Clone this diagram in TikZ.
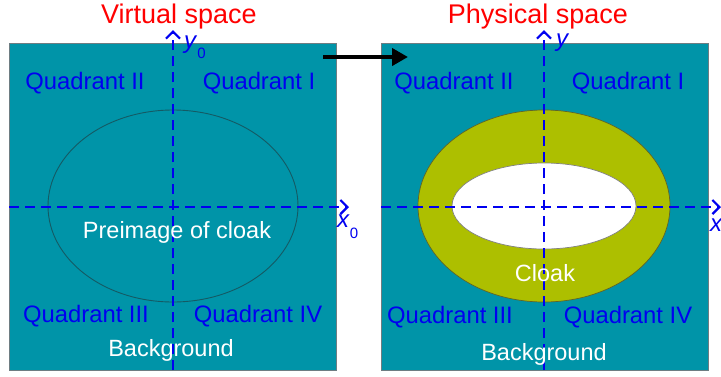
\documentclass[tikz,border=0pt]{standalone}
\usepackage{fontspec}
\setmainfont{Liberation Sans}
\usetikzlibrary{arrows.meta}
\definecolor{teal0}{RGB}{0,148,168}
\definecolor{olive0}{RGB}{173,191,0}
\definecolor{blue0}{RGB}{0,0,240}
\definecolor{red0}{RGB}{255,0,0}
\definecolor{edge0}{RGB}{110,125,130}
\tikzset{
  panel/.style={fill=teal0,draw=edge0,line width=0.8pt},
  axis/.style={blue0,line width=2.2pt,dash pattern=on 10pt off 6pt,-{Straight Barb[length=7pt,width=14pt,line width=2.2pt]}},
  quad/.style={text=blue0,font=\fontsize{23.8}{28}\selectfont,inner sep=0pt},
  white0/.style={text=white,font=\fontsize{23.5}{28}\selectfont,inner sep=0pt},
  title/.style={text=red0,font=\fontsize{27}{32}\selectfont,inner sep=0pt,anchor=base,text depth=0pt},
  axlab/.style={text=blue0,font=\fontsize{24}{27}\selectfont,inner sep=0pt,anchor=west},
  toplab/.style={text=blue0,font=\fontsize{24}{27}\selectfont,inner sep=0pt,anchor=base west,text height=1.1ex,text depth=0pt}
}
\newcommand{\axsub}[1]{\textit{#1}\raisebox{-0.45em}{\fontsize{15}{17}\selectfont 0}}
\begin{document}
\begin{tikzpicture}[x=1pt,y=-1pt]
\useasboundingbox (0,0) rectangle (721,376);
% panels
\path[panel] (9,43) rectangle (336,370);
\path[panel] (381,43) rectangle (708,370);
% left ellipse
\draw[draw={rgb,255:red,20;green,90;blue,100},line width=0.9pt] (173,206) ellipse [x radius=125,y radius=96];
% right ellipses
\draw[fill=olive0,draw={rgb,255:red,95;green,100;blue,40},line width=0.7pt] (544,206) ellipse [x radius=126,y radius=96];
\draw[fill=white,draw=gray,line width=0.7pt] (544,206) ellipse [x radius=92,y radius=43];
% axes coordinates
\coordinate (lvb) at (173,370);
\coordinate (lvt) at (173,30);
\coordinate (lhl) at (9,207);
\coordinate (lhr) at (349,207);
\coordinate (rvb) at (544,370);
\coordinate (rvt) at (544,30);
\coordinate (rhl) at (381,207);
\coordinate (rhr) at (721,207);
\draw[axis] (lvb) -- (lvt);
\draw[axis] (lhl) -- (lhr);
\draw[axis] (rvb) -- (rvt);
\draw[axis] (rhl) -- (rhr);
% axis labels
\node[toplab] (ly) at (184,48) {\axsub{y}};
\node[axlab] (lx) at (337,227) {\axsub{x}};
\node[toplab] (ry) at (556,46) {\textit{y}};
\node[axlab] (rx) at (710,225) {\textit{x}};
% titles
\node[title] (tv) at (179,23) {Virtual space};
\node[title] (tp) at (538,23) {Physical space};
% transfer arrow
\coordinate (aa) at (323,57);
\coordinate (ab) at (408,57);
\draw[line width=4.5pt,-{Triangle[length=16pt,width=17pt]}] (aa) -- (ab);
% left labels
\node[quad] (l2) at (85,83) {Quadrant II};
\node[quad] (l1) at (259,83) {Quadrant I};
\node[quad] (l3) at (86,316) {Quadrant III};
\node[quad] (l4) at (258,316) {Quadrant IV};
\node[white0] (lb) at (171,350) {Background};
\node[white0] (lp) at (177,232) {Preimage of cloak};
% right labels
\node[quad] (r2) at (454,83) {Quadrant II};
\node[quad] (r1) at (628,83) {Quadrant I};
\node[quad] (r3) at (450,317) {Quadrant III};
\node[quad] (r4) at (628,317) {Quadrant IV};
\node[white0] (rb) at (544,354) {Background};
\node[white0] (rc) at (545,273) {Cloak};
\end{tikzpicture}
\end{document}
